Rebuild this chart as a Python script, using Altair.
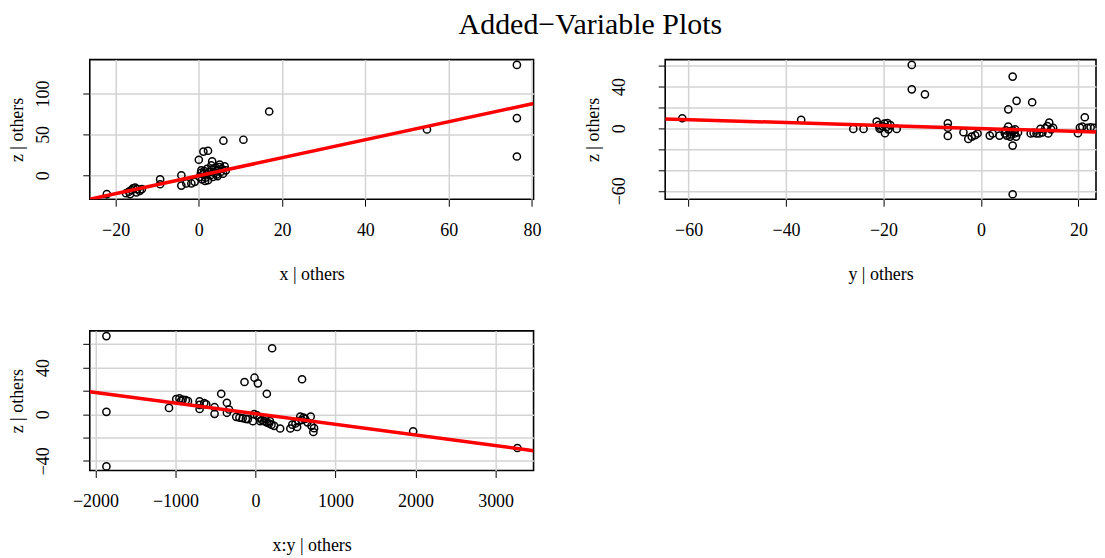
import altair as alt
import pandas as pd

FONT = "Liberation Serif"

# ---- Panel 1: x | others vs z | others
x1 = [76.4, 76.4, 76.4, 54.8, 16.9, 10.7, 5.9, 2.2, 1.1, 0.0, 3.2, -22.1,
      -17.5, -16.8, -16.2, -15.8, -15.3, -14.8, -14.2, -13.7, -16.5, -15.0,
      -9.3, -9.3, -4.2, -4.2, -3.0, -1.8, -1.0,
      0.2, 0.5, 0.8, 1.0, 1.3, 1.6, 1.9, 2.2, 2.5, 2.8, 3.1, 3.4, 3.7, 4.0,
      4.3, 4.6, 4.9, 5.2, 5.5, 5.8, 6.2, 6.5, 3.0, 2.0, 1.5, 0.6, 4.5, 5.0]
z1 = [135, 70, 23, 56, 78, 43.5, 42.3, 30, 29, 19, 17, -23,
      -22, -20, -18, -16, -15, -17, -19, -17, -23, -21,
      -5, -11, 0, -12.6, -10, -10, -8,
      -2, 3, -5, 1, 5, -3, 2, -6, 4, 0, 7, -2, 3, 9,
      1, 6, 10, 4, 8, 2, 11, 6, 12, 8, -7, 6, -1, 13]
fit1_x = [-26.2, 80.4]
fit1_z = [-29.3, 87.8]

# ---- Panel 2: y | others vs z | others
x2 = [-61.3, -36.9, -26.2, -24.1,
      -21.4, -21.0, -20.6, -20.2, -19.8, -19.4, -19.0, -18.6, -19.7, -20.8, -19.2, -17.3,
      -14.2, -14.2, -11.5,
      -6.8, -6.8, -6.8, -3.6, -2.6, -1.9, -1.2, -0.7,
      1.8, 2.4, 3.8,
      4.9, 5.3, 5.6, 5.9, 6.2, 6.5, 6.9, 7.2, 7.6, 5.1, 6.0, 7.0,
      5.6, 6.5, 7.3, 6.5, 6.5,
      10.5,
      10.2, 10.8, 11.4, 12.0, 12.6, 13.2, 13.6, 14.0, 14.4, 14.8, 13.8, 12.2,
      19.9, 20.3, 21.3, 20.8, 21.8, 22.5, 23.2]
z2 = [9.6, 8, -0.6, -0.6,
      6.5, 3, 0.5, 2, 4.5, 1, -1, 3, -4.8, -0.5, 5, -0.6,
      60.8, 37.4, 32.6,
      4.8, 0.5, -7.3, -3.8, -10.2, -8, -6.7, -5,
      -7, -5, -7,
      -5, -7, 1.6, -3, -6, -2, -5, -8, -4, -2, -8, -1,
      18.2, 49.6, 26.3, -16.6, -63.3,
      25,
      -5, -4.5, -5, -5, -4, 0, 2, 5.5, -1, 0.5, -5, -0.5,
      -4.8, 0.7, 10.6, 1.5, 0.5, 1, 0.5]
fit2_x = [-64.8, 26.4]
fit2_z = [9.0, -4.0]

# ---- Panel 3: x:y | others vs z | others
x3 = [-1862, -1862, -1862, 208, 582, -12, 30, -137, 142, -428, -1080,
      -990, -950, -910, -870, -843, -930,
      -698, -698, -698, -640, -615, -511, -511, -357, -357, -330,
      -240, -200, -160, -120, -95, -32,
      -16, 20, 50, 80, 110, 140, 170, 200, 233, 60, 120, 180,
      308, 436,
      460, 500, 540, 580, 620, 560, 600, 650, 700, 732, 723, 690, 520,
      1970, 3272]
z3 = [67, 2, -44.8, 56.6, 30, 31.3, 26.5, 27.6, 17.5, 17.5, 5.4,
      13, 13.5, 12.5, 12, 11.2, 11.5,
      11, 8, 4.5, 9.5, 8.4, 6, 0.3, 9.8, 1.2, 4,
      -2.3, -3, -3.5, -4, -4.3, -6,
      0, -1, -3, -5, -6, -7, -8, -9, -10, -6, -4, -6,
      -12.3, -12.3,
      -9, -8, -6, -5, -4, -2, -3, -7, -10, -12, -15.3, -2, -11,
      -14.7, -29]
fit3_x = [-2070, 3474]
fit3_z = [19.2, -31.3]

TITLE = "Added−Variable Plots"
MINUS = "replace(datum.label, '-', '−')"


def panel(xv, zv, fx, fz, xdom, ydom, xticks, yticks, ylab, xtitle, width=445):
    pts = pd.DataFrame({"x": xv, "z": zv})
    fit = pd.DataFrame({"x": fx, "z": fz})
    xs = alt.Scale(domain=xdom, nice=False, zero=False)
    ys = alt.Scale(domain=ydom, nice=False, zero=False)
    cond = " || ".join(f"datum.value == {v}" for v in ylab)
    xax = alt.Axis(values=xticks, tickCount=50, title=xtitle, format="d",
                   labelExpr=MINUS, labelPadding=15, labelBaseline="top",
                   titleY=75, titleBaseline="middle")
    yax = alt.Axis(values=yticks, tickCount=50, title="z | others", format="d",
                   labelExpr=f"({cond}) ? {MINUS} : ''",
                   labelAngle=270, labelAlign="center", labelBaseline="middle",
                   labelPadding=39, titleX=-72, titleBaseline="middle",
                   titleAngle=270)
    points = alt.Chart(pts).mark_point(
        shape="circle", filled=False, color="black", size=52,
        strokeWidth=1.5, clip=True, opacity=1
    ).encode(x=alt.X("x:Q", scale=xs, axis=xax),
             y=alt.Y("z:Q", scale=ys, axis=yax))
    line = alt.Chart(fit).mark_line(color="#FF0000", strokeWidth=3.5, clip=True).encode(
        x=alt.X("x:Q", scale=xs), y=alt.Y("z:Q", scale=ys))
    return alt.layer(points, line).properties(width=width, height=140)


p1 = panel(x1, z1, fit1_x, fit1_z, [-26.2, 80.4], [-29.3, 141.5],
           [-20, 0, 20, 40, 60, 80], [0, 50, 100], [0, 50, 100], "x | others")
p2 = panel(x2, z2, fit2_x, fit2_z, [-64.8, 23.6], [-68.1, 65.9],
           [-60, -40, -20, 0, 20], [-60, -40, -20, 0, 20, 40, 60], [40, 0, -60],
           "y | others", width=432)
p3 = panel(x3, z3, fit3_x, fit3_z, [-2070, 3474], [-48.3, 71.5],
           [-2000, -1000, 0, 1000, 2000, 3000], [-40, -20, 0, 20, 40, 60],
           [40, 0, -40], "x:y | others")

chart = alt.concat(
    p1, p2, p3, columns=2, spacing=132, bounds="flush"
).properties(
    title=alt.TitleParams(TITLE, fontSize=30, font=FONT, fontWeight="normal",
                          anchor="middle", offset=19, dx=38, color="black"),
    padding={"left": 0, "top": 1, "right": 0, "bottom": 0},
    background="white",
).configure_view(
    stroke="black", strokeWidth=1.6
).configure_axis(
    grid=True, gridColor="#D3D3D3", gridWidth=1.5, domain=False,
    ticks=True, tickColor="black", tickSize=7, tickWidth=1,
    labelFont=FONT, labelFontSize=18, labelColor="black",
    titleFont=FONT, titleFontSize=18, titleFontWeight="normal", titleColor="black",
    labelOverlap=False, labelFlush=False
)

chart.save("out.html", embed_options={"renderer": "svg", "actions": False})
